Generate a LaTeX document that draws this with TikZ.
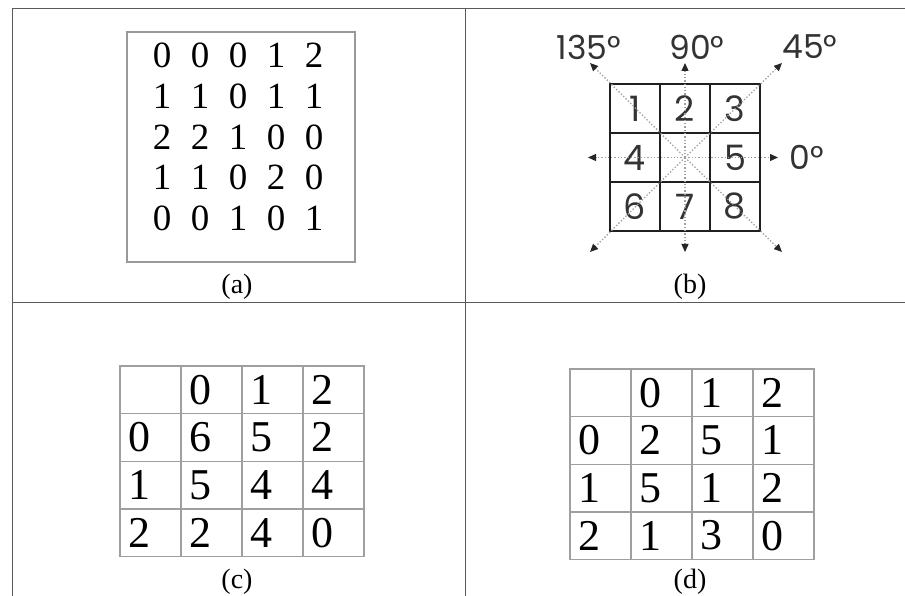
\documentclass[tikz,border=0pt]{standalone}
\usepackage{fontspec}
\setmainfont{Liberation Serif}
\newfontfamily\gothic{Poppins}
\usepackage{tikz}
\usetikzlibrary{arrows.meta}
\tikzstyle{frame} = [line width=0.8pt, draw=gray!70!black]
\tikzstyle{digit} = [inner sep=0pt, font=\fontsize{37}{37}\selectfont]
\tikzstyle{caption} = [inner sep=0pt, font=\fontsize{28}{28}\selectfont]
\tikzstyle{cell} = [rectangle, draw=gray!75, line width=1.4pt, minimum height=47.6pt, text width=45pt, inner xsep=8pt, align=left, font=\fontsize{44}{44}\selectfont]
\tikzstyle{bcell} = [rectangle, draw=gray!25!black, line width=1.5pt, minimum width=50pt, minimum height=49pt, inner sep=0pt, text=gray!40!black, font=\gothic\fontsize{35}{35}\selectfont]
\tikzstyle{angle} = [inner sep=0pt, text=gray!40!black, font=\gothic\fontsize{33}{33}\selectfont]
\tikzstyle{direction} = [dotted, line width=1.3pt, draw=gray!75, -{Triangle[length=8pt,width=7pt,color=black!85]}]

\begin{document}
\begin{tikzpicture}[x=1pt, y=-1pt]
        \useasboundingbox (0,0) rectangle (905,596);
        % outer frame
        \draw [frame] (12,8) -- (905,8);
        \draw [frame] (12,8) -- (12,596);
        \draw [frame] (465,8) -- (465,596);
        \draw [frame] (12,302) -- (905,302);
        % (a) image matrix
        \draw [line width=1.4pt, draw=gray!80] (127,32) rectangle (355,262);
        \foreach \row [count=\r] in {{0,0,0,1,2},{1,1,0,1,1},{2,2,1,0,0},{1,1,0,2,0},{0,0,1,0,1}}
            \foreach \v [count=\c] in \row
                \node (a-\r-\c) [digit] at (124+38*\c, 14.5+40.8*\r) {\v};
        \node (cap-a) [caption] at (237,287) {(a)};
        % (b) directions
        \foreach \lab/\i/\j in {1/0/0, 2/1/0, 3/2/0, 4/0/1, 5/2/1, 6/0/2, 7/1/2, 8/2/2}
            \node (b\lab) [bcell] at (635+50*\i, 108.5+49*\j) {\lab};
        \node (bc) [bcell] at (685,157.5) {};
        \coordinate (e0) at (778,157.5);
        \coordinate (e45) at (782,63);
        \coordinate (e90) at (685,63);
        \coordinate (e135) at (590,63);
        \coordinate (e180) at (588,157.5);
        \coordinate (e225) at (590,252);
        \coordinate (e270) at (685,252);
        \coordinate (e315) at (782,252);
        \foreach \d in {0,45,90,135,180,225,270,315}
            \draw [direction] (bc.center) -- (e\d);
        \node (l135) [angle] at (589,47) {135°};
        \node (l90) [angle] at (697,47) {90°};
        \node (l45) [angle] at (810,47) {45°};
        \node (l0) [angle] at (807,157.5) {0°};
        \node (cap-b) [caption] at (690,287) {(b)};
        % (c) co-occurrence matrix
        \foreach \row [count=\r] in {{{},0,1,2},{0,6,5,2},{1,5,4,4},{2,2,4,0}}
            \foreach \v [count=\c] in \row
                \node (c-\r-\c) [cell] at (89.5+61*\c, 342.2+47.6*\r) {\v};
        \node (cap-c) [caption] at (237,582) {(c)};
        % (d) co-occurrence matrix
        \foreach \row [count=\r] in {{{},0,1,2},{0,2,5,1},{1,5,1,2},{2,1,3,0}}
            \foreach \v [count=\c] in \row
                \node (d-\r-\c) [cell] at (539.5+61*\c, 345.2+47.6*\r) {\v};
        \node (cap-d) [caption] at (690,582) {(d)};
    \end{tikzpicture}
\end{document}
